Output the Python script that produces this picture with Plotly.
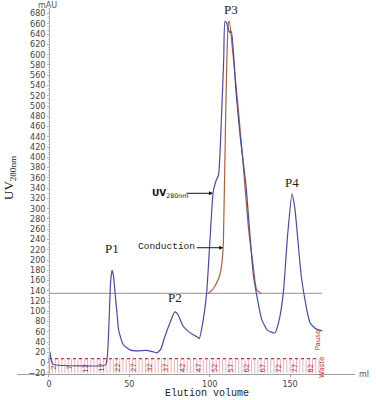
import plotly.graph_objects as go

# ---------------- data ----------------
uv_ml = [0, 0.6, 1.3, 2.5, 6, 20, 34, 35.5, 36.5, 37.5, 38.3, 39.2, 40.0, 41.0, 42.5, 43.3,
         46.2, 50.4, 55, 60.8, 65, 67, 69.5, 72, 75.3, 78.3, 80, 83.5, 86.7, 89, 91.9, 93.5,
         96, 98.1, 100, 102.2, 104, 105.5, 107.5, 108.7, 109.5, 110.5, 111.6, 112.6, 113.5,
         116.4, 119, 122.6, 127.3, 132.4, 136, 140.6, 143, 145.8, 148.5, 151.2, 153, 157,
         160, 162.4, 166, 170]
uv_mau = [0, 21, 6, -3, -5, -6, -6, -3, 20, 90, 155, 180, 172, 140, 90, 64,
          35, 25, 23, 24, 21, 19, 26, 50, 78, 99, 95, 71, 61, 56, 51, 47,
          84, 136, 230, 334, 355, 366, 493, 590, 665, 662, 649, 643, 645,
          526, 440, 344, 168, 84, 63, 58, 80, 136, 250, 329, 300, 168,
          110, 78, 66, 62]

cond_ml = [98.9, 101, 103, 104.4, 106, 107.0, 107.8, 108.5, 110.0, 111.6, 112.2,
           114.5, 117.8, 121, 124.0, 127, 129.2, 132]
cond_mau = [135, 140, 148, 156, 168, 181, 200, 234, 493, 662, 665,
            600, 493, 380, 266, 190, 142, 135]

baseline_ml = [0, 170]
baseline_mau = [135, 135]

fraction_labels = [2, 7, 12, 17, 22, 27, 32, 37, 42, 47, 52, 57, 62, 67, 72, 77, 82]
fraction_size = 2.0
n_fractions = 84

x_ticks = [0, 50, 100, 150]
y_ticks = list(range(-20, 681, 20))

peaks = [("P1", 39.2, 222), ("P2", 78.3, 127), ("P4", 151.5, 352)]
top_peak = ("P3", 113)

UV_COLOR = "#4a4aa8"
COND_COLOR = "#b0603a"
RED = "#c0303a"

fig = go.Figure()

# fraction boundary marks
fx, fy = [], []
for i in range(n_fractions + 1):
    x = i * fraction_size
    fx += [x, x, None]
    fy += [-20, 8, None]
fig.add_trace(go.Scatter(x=fx, y=fy, mode="lines",
                         line=dict(color="#eab4b8", width=1), hoverinfo="skip"))
fig.add_trace(go.Scatter(x=[0, n_fractions * fraction_size], y=[8, 8], mode="lines",
                         line=dict(color=RED, width=1.2, dash="dot"), hoverinfo="skip"))

fig.add_trace(go.Scatter(x=baseline_ml, y=baseline_mau, mode="lines",
                         line=dict(color="#a8a8a8", width=1.2), hoverinfo="skip"))
fig.add_trace(go.Scatter(x=cond_ml, y=cond_mau, mode="lines",
                         line=dict(color=COND_COLOR, width=1.2, shape="spline", smoothing=0.5)))
fig.add_trace(go.Scatter(x=uv_ml, y=uv_mau, mode="lines",
                         line=dict(color=UV_COLOR, width=1.2, shape="spline", smoothing=0.5)))

ann = []
for f in fraction_labels:
    ann.append(dict(x=(f - 0.5) * fraction_size, y=-10, text=str(f), showarrow=False,
                    textangle=-90, xanchor="center", yanchor="middle",
                    font=dict(size=7, color=RED, family="DejaVu Sans")))
ann.append(dict(x=n_fractions * fraction_size + 2, y=-10, text="Waste", showarrow=False,
                textangle=-90, xanchor="center", yanchor="middle",
                font=dict(size=7, color=RED, family="DejaVu Sans")))
ann.append(dict(x=n_fractions * fraction_size - 0.5, y=44, text="Pause", showarrow=False,
                textangle=-90, xanchor="center", yanchor="middle",
                font=dict(size=7, color=RED, family="DejaVu Sans")))

for name, x, y in peaks:
    ann.append(dict(x=x, y=y, text=name, showarrow=False, xanchor="center", yanchor="middle",
                    font=dict(size=13, color="#222", family="Liberation Serif")))
ann.append(dict(x=top_peak[1], yref="paper", y=(374 - 9) / 366, text=top_peak[0],
                showarrow=False, xanchor="center", yanchor="middle",
                font=dict(size=13, color="#222", family="Liberation Serif")))

# arrows
ann.append(dict(x=102, y=330, ax=-28, ay=0, axref="pixel", ayref="pixel",
                showarrow=True, arrowhead=2, arrowsize=0.8, arrowwidth=1, arrowcolor="#111",
                text=""))
ann.append(dict(xref="paper", yref="paper", x=(170 - 17) / 338, y=(374 - 193) / 366,
                xanchor="center", yanchor="middle",
                text="<b>UV</b><sub>280nm</sub>", showarrow=False,
                font=dict(size=9, color="#111", family="DejaVu Sans")))
ann.append(dict(x=108.4, y=224, ax=-28, ay=0, axref="pixel", ayref="pixel",
                showarrow=True, arrowhead=2, arrowsize=0.8, arrowwidth=1, arrowcolor="#111",
                text=""))
ann.append(dict(xref="paper", yref="paper", x=(166 - 17) / 338, y=(374 - 247) / 366,
                xanchor="center", yanchor="middle",
                text="Conduction", showarrow=False,
                font=dict(size=9.5, color="#222", family="Liberation Mono")))

ann.append(dict(xref="paper", yref="paper", x=(47 - 17) / 338, y=(374 - 5) / 366,
                xanchor="center", yanchor="middle",
                text="mAU", showarrow=False,
                font=dict(size=8, color="#555", family="DejaVu Sans")))
ann.append(dict(xref="paper", yref="paper", x=1.005, y=0, xanchor="left", yanchor="middle",
                text="ml", showarrow=False,
                font=dict(size=8, color="#555", family="DejaVu Sans")))
ann.append(dict(xref="paper", yref="paper", x=(207 - 17) / 338, y=(374 - 393) / 366,
                xanchor="center", yanchor="middle",
                text="Elution volume", showarrow=False,
                font=dict(size=10, color="#222", family="Liberation Mono")))
ann.append(dict(xref="paper", yref="paper", x=(10 - 17) / 338, y=(374 - 178) / 366,
                xanchor="center", yanchor="middle",
                text="UV<sub>280nm</sub>", showarrow=False, textangle=-90,
                font=dict(size=13, color="#222", family="Liberation Serif")))

fig.update_layout(
    width=376, height=400,
    margin=dict(l=17, r=21, t=8, b=26),
    paper_bgcolor="white", plot_bgcolor="white",
    showlegend=False,
    annotations=ann,
    xaxis=dict(range=[-19.9, 190.4], showline=True, linecolor="#a0a0a0", linewidth=1,
               tickvals=x_ticks, ticks="outside", ticklen=2, tickcolor="#a0a0a0",
               showgrid=False, zeroline=False,
               tickfont=dict(size=8, color="#444", family="DejaVu Sans")),
    yaxis=dict(range=[-22, 691], anchor="free", position=(49 - 17) / 338,
               showline=True, linecolor="#b0b0b0", linewidth=1,
               tickvals=y_ticks, ticks="outside", ticklen=2, tickcolor="#b0b0b0",
               minor=dict(ticks="outside", ticklen=1, dtick=5, tickcolor="#c8c8c8"),
               showgrid=False, zeroline=False,
               tickfont=dict(size=8, color="#444", family="DejaVu Sans")),
)

fig.write_html("out.html", config={"displayModeBar": False},
               post_script="document.body.style.margin='0';")
